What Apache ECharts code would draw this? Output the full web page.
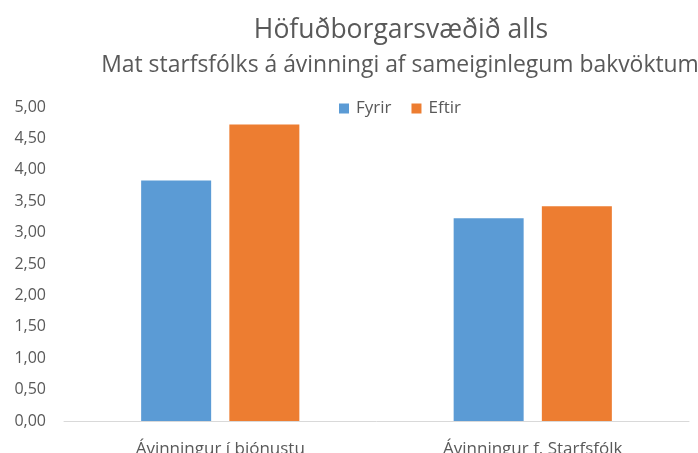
<!DOCTYPE html>
<html><head><meta charset="utf-8">
<script src="https://cdn.jsdelivr.net/npm/echarts@6/dist/echarts.min.js"></script>
<style>html,body{margin:0;padding:0;background:#fff}#c{width:698px;height:453px}</style>
</head><body><div id="c"></div>
<script>
const categories = ['Ávinningur í þjónustu', 'Ávinningur f. Starfsfólk'];
const fyrir = [3.83, 3.23];
const eftir = [4.72, 3.42];
const seriesNames = ['Fyrir', 'Eftir'];
const yTicks = [0, 0.5, 1, 1.5, 2, 2.5, 3, 3.5, 4, 4.5, 5];

const font = '"Open Sans", sans-serif';
const chart = echarts.init(document.getElementById('c'));
chart.setOption({
  animation: false,
  title: [
    {text: 'Höfuðborgarsvæðið alls', left: 396, top: 12, textAlign: 'center',
     textStyle: {fontFamily: font, fontSize: 26.5, fontWeight: 'normal', color: '#595959'}},
    {text: 'Mat starfsfólks á ávinningi af sameiginlegum bakvöktum', left: 395, top: 49, textAlign: 'center',
     textStyle: {fontFamily: font, fontSize: 22.9, fontWeight: 'normal', color: '#595959'}}
  ],
  legend: {
    data: seriesNames, left: 334, top: 95, itemWidth: 10, itemHeight: 10, itemGap: 20,
    icon: 'rect',
    textStyle: {fontFamily: font, fontSize: 17, color: '#595959', padding: [0,0,0,2]}
  },
  grid: {left: 64, right: 9, top: 107, bottom: 32, containLabel: false, outerBoundsMode: 'none'},
  xAxis: {
    type: 'category', data: categories,
    axisLine: {lineStyle: {color: '#d9d9d9', width: 1}},
    axisTick: {show: false},
    axisLabel: {fontFamily: font, fontSize: 17, color: '#595959', margin: 20}
  },
  yAxis: {
    type: 'value', min: 0, max: 5, interval: 0.5,
    splitLine: {show: false},
    axisLine: {show: false}, axisTick: {show: false},
    axisLabel: {fontFamily: font, fontSize: 16, color: '#595959', margin: 18,
      formatter: v => v.toFixed(2).replace('.', ',')}
  },
  series: [
    {name: seriesNames[0], type: 'bar', data: fyrir, barWidth: 70, barGap: '26%',
     itemStyle: {color: '#5B9BD5'}},
    {name: seriesNames[1], type: 'bar', data: eftir, barWidth: 70,
     itemStyle: {color: '#ED7D31'}}
  ]
});
</script></body></html>
